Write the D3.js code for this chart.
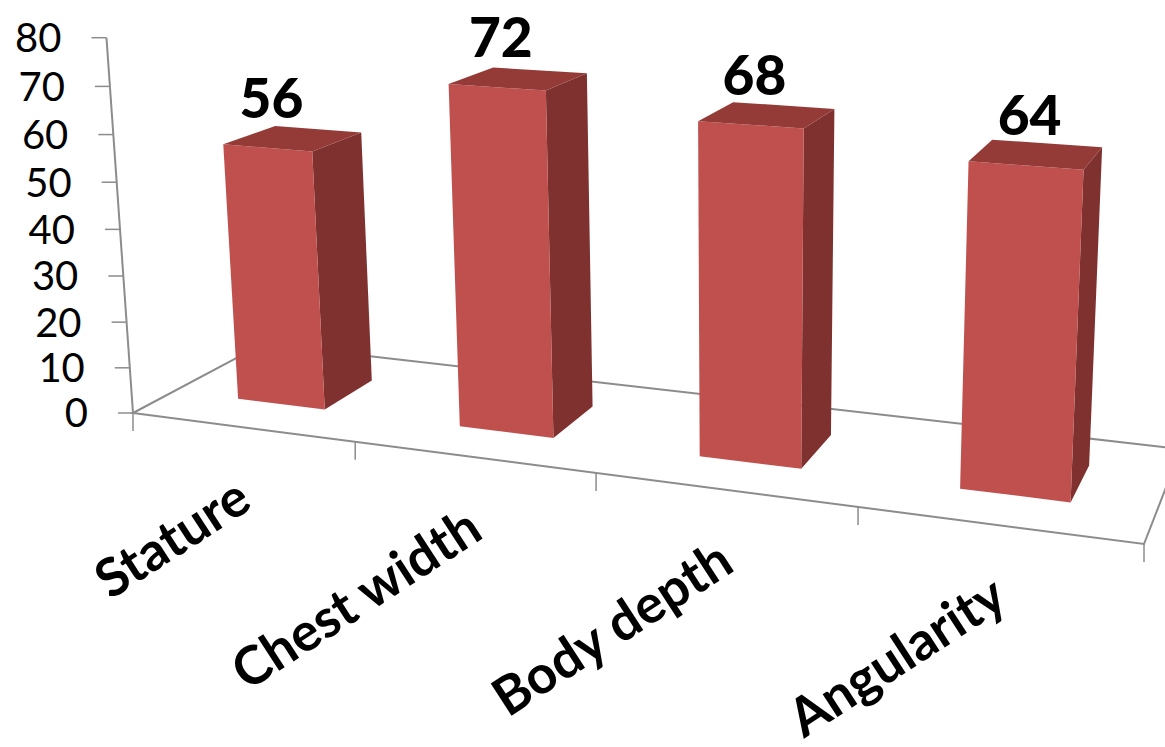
<!DOCTYPE html>
<html>
<head>
<meta charset="utf-8">
<script src="https://cdn.jsdelivr.net/npm/d3@7"></script>
<style>
  html, body { margin: 0; padding: 0; background: #ffffff; }
  svg { display: block; }
  text { font-family: Lato, "Open Sans", "Liberation Sans", sans-serif; fill: #000; }
</style>
</head>
<body>
<svg id="chart" width="1165" height="747"></svg>
<script>
// ---- data ----
const categories = ["Stature", "Chest width", "Body depth", "Angularity"];
const values = [56, 72, 68, 64];
const yTicks = [0, 10, 20, 30, 40, 50, 60, 70, 80];

// ---- 3D view setup (pixel positions of the floor corners, top of the value axis,
//      and the vanishing point of vertical edges) ----
const floorFL = [133, 413], floorFR = [1144, 544], floorBL = [263, 344], floorBR = [1181, 449];
const axisTopY = 37.7;
const verticalVP = [740, 9000];
const barDepth = [0.3, 0.7];

const colors = { front: "#C0504D", side: "#7F312F", top: "#943B38", axis: "#8C8C8C" };

// Solve a linear system with Gaussian elimination
function solve(A, b) {
  const n = b.length;
  const M = A.map((row, i) => row.concat([b[i]]));
  for (let c = 0; c < n; c++) {
    let p = c;
    for (let r = c + 1; r < n; r++) if (Math.abs(M[r][c]) > Math.abs(M[p][c])) p = r;
    [M[c], M[p]] = [M[p], M[c]];
    for (let r = 0; r < n; r++) {
      if (r === c) continue;
      const f = M[r][c] / M[c][c];
      for (let k = c; k <= n; k++) M[r][k] -= f * M[c][k];
    }
  }
  return M.map((row, i) => row[n] / row[i]);
}

// Floor homography: (u, w) in unit square -> pixels
const src = [[0, 0], [1, 0], [0, 1], [1, 1]];
const dst = [floorFL, floorFR, floorBL, floorBR];
const A = [], B = [];
src.forEach(([u, w], i) => {
  const [x, y] = dst[i];
  A.push([u, w, 1, 0, 0, 0, -u * x, -w * x]); B.push(x);
  A.push([0, 0, 0, u, w, 1, -u * y, -w * y]); B.push(y);
});
const h = solve(A, B);
// Height column: points toward the vertical vanishing point
const kH = (axisTopY - h[5]) / (verticalVP[1] - axisTopY);

// project(u: along categories 0..1, v: height 0..1, w: depth 0..1)
function project(u, v, w) {
  const X = h[0] * u + h[1] * w + h[2] + kH * verticalVP[0] * v;
  const Y = h[3] * u + h[4] * w + h[5] + kH * verticalVP[1] * v;
  const Z = h[6] * u + h[7] * w + 1 + kH * v;
  return [X / Z, Y / Z];
}

// ---- scales ----
const x = d3.scaleBand().domain(categories).range([0, 1]).paddingInner(0.6).paddingOuter(0.3);
const y = d3.scaleLinear().domain([0, 80]).range([0, 1]);

const svg = d3.select("#chart");
const line = d3.line();
const poly = pts => line(pts) + "Z";

// ---- floor outline ----
svg.append("path")
  .attr("d", poly([project(0, 0, 0), project(1, 0, 0), project(1, 0, 1), project(0, 0, 1)]))
  .attr("fill", "none").attr("stroke", colors.axis).attr("stroke-width", 2);

// ---- category axis ticks ----
const catBounds = d3.range(categories.length + 1).map(i => i / categories.length);
svg.append("g").selectAll("line").data(catBounds).join("line")
  .each(function (d) {
    const p = project(d, 0, 0);
    d3.select(this).attr("x1", p[0]).attr("y1", p[1]).attr("x2", p[0]).attr("y2", p[1] + 18);
  })
  .attr("stroke", colors.axis).attr("stroke-width", 1.5);

// ---- value axis ----
svg.append("path")
  .attr("d", line([project(0, 0, 0), project(0, 1, 0)]))
  .attr("fill", "none").attr("stroke", colors.axis).attr("stroke-width", 2);

const yAxis = svg.append("g");
yTicks.forEach(t => {
  const p = project(0, y(t), 0);
  yAxis.append("line")
    .attr("x1", p[0] - 15).attr("y1", p[1]).attr("x2", p[0]).attr("y2", p[1])
    .attr("stroke", colors.axis).attr("stroke-width", 1.5);
  yAxis.append("text")
    .attr("x", p[0] - 45).attr("y", p[1]).attr("dy", "0.36em")
    .attr("text-anchor", "end").attr("font-size", 40)
    .text(t);
});

// ---- bars ----
const bars = svg.append("g");
categories.forEach((c, i) => {
  const u0 = x(c), u1 = x(c) + x.bandwidth();
  const v = y(values[i]);
  const [w0, w1] = barDepth;
  const g = bars.append("g");
  g.append("path").attr("fill", colors.side)
    .attr("d", poly([project(u1, 0, w0), project(u1, 0, w1), project(u1, v, w1), project(u1, v, w0)]));
  g.append("path").attr("fill", colors.front)
    .attr("d", poly([project(u0, 0, w0), project(u1, 0, w0), project(u1, v, w0), project(u0, v, w0)]));
  g.append("path").attr("fill", colors.top)
    .attr("d", poly([project(u0, v, w0), project(u1, v, w0), project(u1, v, w1), project(u0, v, w1)]));
});

// ---- value labels ----
svg.append("g").selectAll("text").data(categories).join("text")
  .each(function (c, i) {
    const p = project(x(c) + x.bandwidth() / 2, y(values[i]), barDepth[0]);
    d3.select(this).attr("x", p[0] + 4).attr("y", p[1] - 30);
  })
  .attr("text-anchor", "middle").attr("font-size", 55).attr("font-weight", 900)
  .text((c, i) => values[i]);

// ---- category labels ----
svg.append("g").selectAll("text").data(categories).join("text")
  .attr("transform", c => {
    const p = project(x(c) + x.bandwidth() / 2, 0, 0);
    return `translate(${p[0] + 12},${p[1] + 80}) rotate(-33)`;
  })
  .attr("text-anchor", "end").attr("font-size", 53).attr("font-weight", 700)
  .text(c => c);
</script>
</body>
</html>
